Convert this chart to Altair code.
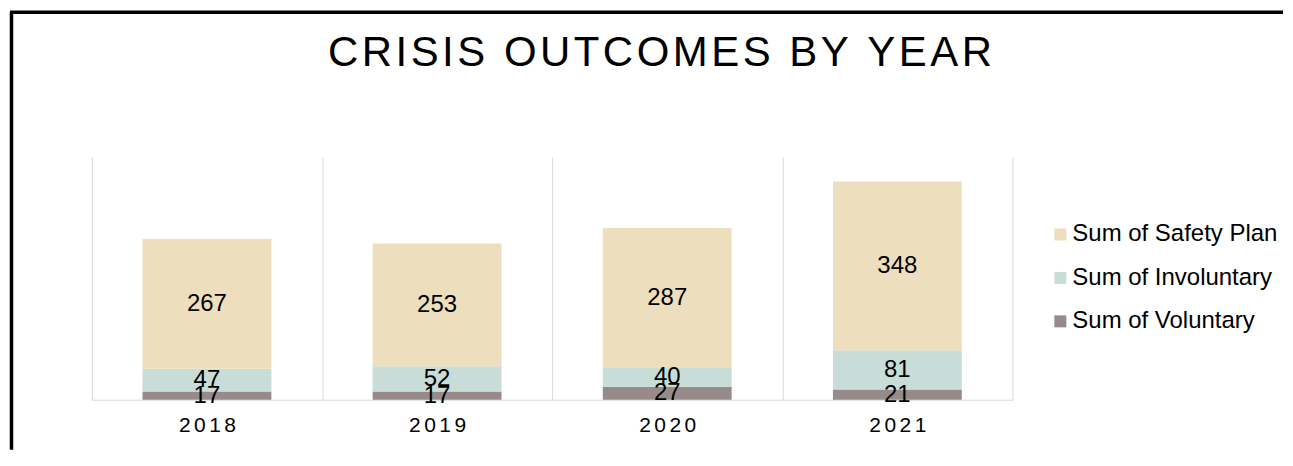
import altair as alt
import pandas as pd

years = ["2018", "2019", "2020", "2021"]
voluntary = [17, 17, 27, 21]
involuntary = [47, 52, 40, 81]
safety_plan = [267, 253, 287, 348]

series_names = ["Sum of Safety Plan", "Sum of Involuntary", "Sum of Voluntary"]
series_colors = ["#EDDFBD", "#C8DCD8", "#968B8A"]
title_text = "CRISIS OUTCOMES BY YEAR"

rows = []
for i, yr in enumerate(years):
    rows.append({"year": yr, "series": "Sum of Voluntary", "value": voluntary[i], "ord": 0})
    rows.append({"year": yr, "series": "Sum of Involuntary", "value": involuntary[i], "ord": 1})
    rows.append({"year": yr, "series": "Sum of Safety Plan", "value": safety_plan[i], "ord": 2})
df = pd.DataFrame(rows)

FONT = "Liberation Sans"

base = alt.Chart(df).transform_stack(
    stack="value", as_=["y0", "y1"], groupby=["year"], sort=[alt.SortField("ord", order="ascending")]
).transform_calculate(mid="(datum.y0 + datum.y1) / 2")

xscale = alt.Scale(paddingInner=0, paddingOuter=0)

xenc = alt.X(
    "year:N",
    sort=years,
    title=None,
    scale=xscale,
    axis=alt.Axis(
        labelAngle=0,
        tickBand="extent",
        grid=True,
        gridColor="#D9D9D9",
        gridWidth=1,
        domainColor="#D9D9D9",
        domainWidth=1,
        ticks=False,
        labelFont=FONT,
        labelFontSize=21,
        labelColor="#000000",
        labelPadding=15,
        labelExpr="join(split(datum.label, ''), '\u200a\u200a')",
    ),
)

bars = base.mark_bar(strokeWidth=0, width={"band": 0.56}).encode(
    x=xenc,
    y=alt.Y("y0:Q", scale=alt.Scale(domain=[0, 500]), axis=None),
    y2="y1:Q",
    color=alt.Color(
        "series:N",
        scale=alt.Scale(domain=series_names, range=series_colors),
        legend=alt.Legend(
            title=None,
            orient="none",
            legendX=958,
            legendY=65.5,
            symbolType="square",
            symbolSize=144,
            symbolStrokeWidth=0,
            labelFont=FONT,
            labelFontSize=24,
            labelColor="#000000",
            labelOffset=0,
            labelLimit=400,
            rowPadding=19.5,
            padding=0,
        ),
    ),
)

labels = base.mark_text(font=FONT, fontSize=24, color="#000000", baseline="middle").encode(
    x=alt.X("year:N", sort=years),
    y=alt.Y("mid:Q"),
    text="value:Q",
)

frame = alt.Chart(pd.DataFrame({"k": [0]}))
left_border = frame.mark_rule(color="#000000", strokeWidth=3.5).encode(
    x=alt.value(-80.5), y=alt.value(-145), y2=alt.value(293)
)
top_border = frame.mark_rule(color="#000000", strokeWidth=3.5).encode(
    x=alt.value(-82), x2=alt.value(1193), y=alt.value(-145)
)
title = frame.mark_text(
    text="\u200a".join(title_text), font=FONT, fontSize=42, color="#000000",
    align="center", baseline="alphabetic",
).encode(x=alt.value(569), y=alt.value(-91))

chart = alt.layer(bars, labels, left_border, top_border, title).properties(
    width=922,
    height=243,
    padding={"left": 0, "top": 2, "right": 0, "bottom": 0},
).configure(background="white").configure_view(stroke=None)

chart.save("out.html", embed_options={"renderer": "svg", "actions": False})
